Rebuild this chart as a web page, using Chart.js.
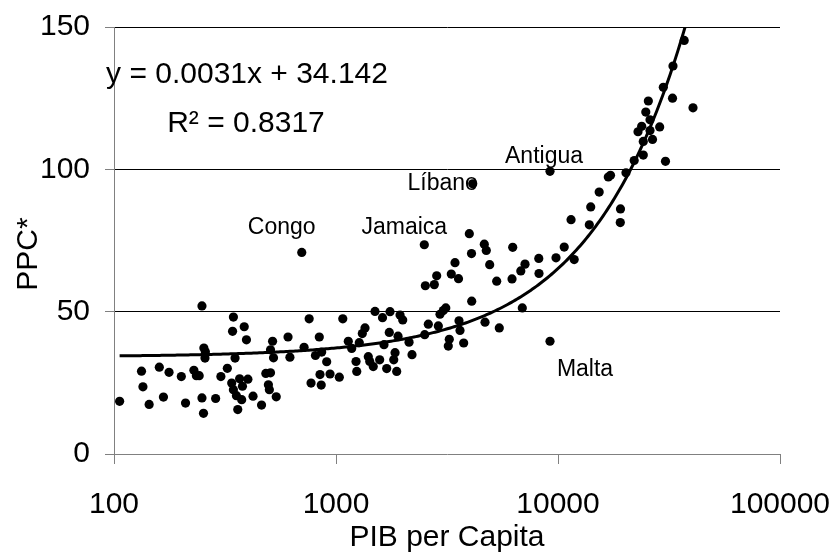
<!DOCTYPE html>
<html>
<head>
<meta charset="utf-8">
<title>PPC vs PIB per Capita</title>
<script src="https://cdn.jsdelivr.net/npm/chart.js@4/dist/chart.umd.min.js"></script>
<style>
  html, body { margin: 0; padding: 0; background: #fff; }
  canvas { display: block; }
</style>
</head>
<body>
<canvas id="chart" width="835" height="559"></canvas>
<script>
// ===============================
// Data
// ===============================
const gdp = [
  106, 133, 135, 144, 160, 167, 177, 201, 210, 229,
  235, 242, 249, 249, 253, 254, 258, 257, 287, 303,
  324, 345, 342, 386, 395, 351, 339, 368, 401, 345,
  379, 356, 376, 361, 423, 462, 483, 507, 496, 501,
  538, 518, 507, 523, 608, 620, 718, 757, 808, 841,
  862, 908, 940, 847, 772, 858, 1035, 1073, 1136, 1177,
  1231, 1240, 1273, 1314, 1351, 1398, 1419, 1472, 1573, 1499,
  1620, 1751, 1645, 1738, 1692, 1877, 1820, 1845, 1903, 1943,
  1998, 2133, 2200, 701, 2499, 3986, 4656, 4753, 4077, 6252,
  3436, 4924, 7103, 8193, 6800, 8210, 2842, 3306, 3563, 2526,
  2772, 5295, 6207, 4086, 6906, 3043, 3123, 2941, 2605, 2890,
  3582, 3619, 4691, 5439, 2509, 3238, 3205, 3760, 4129, 9204,
  9204, 10665, 9795, 11830, 11450, 13840, 14040, 19120, 19080, 15330,
  16850, 17240, 20240, 22040, 24220, 30490, 24220, 26650, 22930, 23820,
  25970, 28710, 25970, 24860, 25520, 32800, 40560, 29810, 32960, 37030
];

const ppc = [
  18.5, 29.1, 23.6, 17.4, 30.5, 20.0, 28.7, 27.2, 17.9, 29.4,
  27.5, 27.5, 52.0, 19.7, 14.3, 37.2, 35.9, 33.7, 19.5, 27.2,
  30.1, 48.1, 43.1, 44.7, 40.1, 33.7, 24.9, 26.4, 26.3, 22.6,
  23.8, 20.5, 19.1, 15.6, 20.3, 17.2, 28.3, 28.5, 24.3, 22.6,
  20.1, 39.6, 36.6, 33.8, 41.1, 34.0, 37.5, 47.5, 34.6, 41.1,
  35.8, 32.4, 28.1, 27.9, 24.9, 24.2, 27.0, 47.5, 39.6, 37.1,
  32.5, 29.0, 39.1, 42.3, 44.3, 34.2, 32.5, 30.7, 33.1, 50.1,
  47.9, 50.0, 38.4, 42.7, 30.0, 29.0, 33.1, 35.6, 41.4, 48.8,
  47.1, 39.3, 34.9, 70.8, 73.5, 77.4, 73.7, 71.5, 70.4, 72.6,
  67.2, 66.5, 66.7, 68.7, 64.3, 63.4, 62.6, 63.2, 61.6, 59.1,
  59.5, 60.7, 61.5, 53.7, 51.3, 50.4, 51.3, 49.1, 45.6, 45.0,
  46.8, 43.4, 46.3, 44.3, 41.9, 40.3, 37.9, 39.0, 94.9, 99.3,
  39.6, 72.7, 68.9, 68.3, 82.3, 80.5, 86.8, 86.1, 81.3, 92.0,
  97.3, 97.9, 98.8, 103.1, 105.0, 102.8, 109.8, 110.5, 113.2, 115.1,
  113.6, 114.9, 117.4, 120.1, 124.0, 125.0, 121.6, 128.8, 136.3, 145.3
];

// named countries
const countryNames = ["Congo", "Jamaica", "Líbano", "Antigua", "Malta"];
const countryGdp = [701, 2499, 4129, 9204, 9204];
const countryPpc = [70.8, 73.5, 94.9, 99.3, 39.6];

// trendline as shown in the chart
const trendSlope = 0.0031;
const trendIntercept = 34.142;
const equationText = "y = 0.0031x + 34.142";
const r2Text = "R² = 0.8317";

const xTicks = [100, 1000, 10000, 100000];
const yTicks = [0, 50, 100, 150];

const FONT = "Arial, 'Liberation Sans', sans-serif";

// ===============================
// Trendline plugin
// ===============================
const trendPlugin = {
  id: "trend",
  afterDatasetsDraw(chart) {
    const { ctx, chartArea: a, scales: { x, y } } = chart;
    const lo = Math.log10(Math.min(...gdp));
    const hi = Math.log10(Math.max(...gdp));
    ctx.save();
    ctx.beginPath();
    ctx.rect(a.left, a.top, a.right - a.left, a.bottom - a.top);
    ctx.clip();
    ctx.beginPath();
    const n = 300;
    for (let i = 0; i <= n; i++) {
      const v = Math.pow(10, lo + (hi - lo) * i / n);
      const px = x.getPixelForValue(v);
      const py = y.getPixelForValue(trendSlope * v + trendIntercept);
      if (i === 0) ctx.moveTo(px, py);
      else ctx.lineTo(px, py);
    }
    ctx.lineWidth = 3;
    ctx.strokeStyle = "#000";
    ctx.lineJoin = "round";
    ctx.stroke();
    ctx.restore();
  }
};

// ===============================
// Text plugin: equation, y title, country labels
// ===============================
const labelOffsets = [
  { dx: -20, dy: -18 },
  { dx: -20, dy: -11 },
  { dx: -30, dy: 6 },
  { dx: -6, dy: -8 },
  { dx: 35, dy: 35 }
];

const textPlugin = {
  id: "texts",
  afterDraw(chart) {
    const { ctx, chartArea: a, scales: { x, y } } = chart;
    ctx.save();
    ctx.fillStyle = "#000";
    ctx.textAlign = "center";
    ctx.textBaseline = "alphabetic";

    // trendline equation
    ctx.font = `30px ${FONT}`;
    ctx.fillText(equationText, a.left + 133, a.top + 56);
    ctx.fillText(r2Text, a.left + 132, a.top + 105);

    // y axis title
    ctx.save();
    ctx.translate(37, 254);
    ctx.rotate(-Math.PI / 2);
    ctx.fillText("PPC*", 0, 0);
    ctx.restore();

    // country labels
    ctx.font = `23px ${FONT}`;
    countryNames.forEach((name, i) => {
      const px = x.getPixelForValue(countryGdp[i]) + labelOffsets[i].dx;
      const py = y.getPixelForValue(countryPpc[i]) + labelOffsets[i].dy;
      ctx.fillText(name, px, py);
    });
    ctx.restore();
  }
};

// ===============================
// Chart
// ===============================
const tickFont = { family: FONT, size: 30 };

new Chart(document.getElementById("chart"), {
  type: "scatter",
  data: {
    datasets: [{
      data: gdp.map((g, i) => ({ x: g, y: ppc[i] })),
      pointRadius: 4.6,
      pointBackgroundColor: "#000",
      pointBorderWidth: 0,
      pointHoverRadius: 4.6
    }]
  },
  options: {
    responsive: false,
    animation: false,
    events: [],
    layout: { padding: { top: 27, right: 55, left: 0, bottom: 0 } },
    plugins: {
      legend: { display: false },
      tooltip: { enabled: false }
    },
    scales: {
      x: {
        type: "logarithmic",
        min: 100,
        max: 100000,
        afterBuildTicks: s => { s.ticks = xTicks.map(v => ({ value: v })); },
        afterFit: s => {
          s.height = 105;
          s.paddingLeft = 0;
          s.paddingRight = 0;
        },
        ticks: {
          callback: v => String(v),
          font: tickFont,
          color: "#000",
          padding: 23,
          maxRotation: 0,
          autoSkip: false
        },
        grid: {
          drawOnChartArea: false,
          drawTicks: true,
          tickLength: 10,
          tickColor: "#808080"
        },
        border: { color: "#808080", width: 1 },
        title: {
          display: true,
          text: "PIB per Capita",
          font: tickFont,
          color: "#000",
          padding: { top: 0, bottom: 3 }
        }
      },
      y: {
        min: 0,
        max: 150,
        afterBuildTicks: s => { s.ticks = yTicks.map(v => ({ value: v })); },
        afterFit: s => {
          s.width = 114;
          s.paddingTop = 0;
          s.paddingBottom = 0;
        },
        ticks: {
          font: tickFont,
          color: "#000",
          padding: 15
        },
        grid: {
          color: c => (c.tick && c.tick.value === 0 ? "rgba(0,0,0,0)" : "#000"),
          lineWidth: 1,
          tickLength: 9,
          tickColor: "#808080"
        },
        border: { color: "#808080", width: 1 }
      }
    }
  },
  plugins: [trendPlugin, textPlugin]
});
</script>
</body>
</html>
